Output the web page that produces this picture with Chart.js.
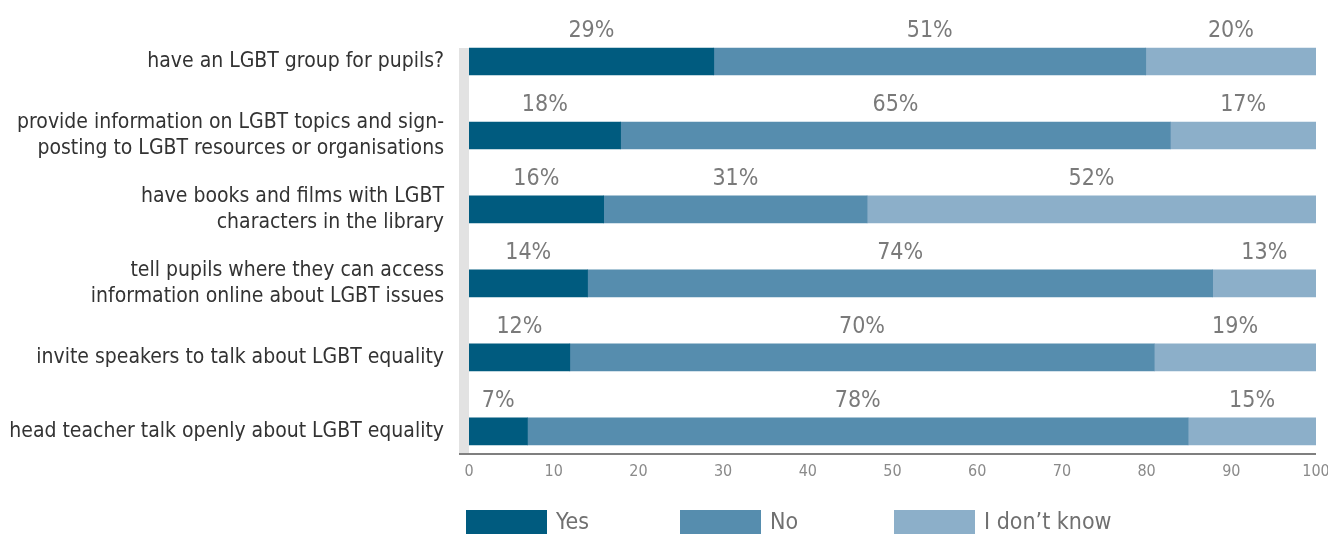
<!DOCTYPE html>
<html>
<head>
<meta charset="utf-8">
<script src="https://cdn.jsdelivr.net/npm/chart.js@4/dist/chart.umd.min.js"></script>
<style>
  html, body { margin: 0; padding: 0; background: #fff; }
  #wrap { width: 1328px; height: 534px; }
</style>
</head>
<body>
<div id="wrap"><canvas id="c" width="1328" height="534"></canvas></div>
<script>
// ---- data ----
const categories = [
  ["have an LGBT group for pupils?"],
  ["provide information on LGBT topics and sign-", "posting to LGBT resources or organisations"],
  ["have books and films with LGBT", "characters in the library"],
  ["tell pupils where they can access", "information online about LGBT issues"],
  ["invite speakers to talk about LGBT equality"],
  ["head teacher talk openly about LGBT equality"]
];
const seriesNames = ["Yes", "No", "I don\u2019t know"];
// bar lengths (percent of respondents, as drawn)
const yesVals = [28.9, 17.9, 15.9, 14.0, 11.9, 6.9];
const noVals  = [51.0, 64.9, 31.1, 73.8, 69.0, 78.0];
const dkVals  = [20.1, 17.2, 53.0, 12.2, 19.1, 15.1];
// printed labels
const yesLabels = ["29%", "18%", "16%", "14%", "12%", "7%"];
const noLabels  = ["51%", "65%", "31%", "74%", "70%", "78%"];
const dkLabels  = ["20%", "17%", "52%", "13%", "19%", "15%"];
const xTicks = [0, 10, 20, 30, 40, 50, 60, 70, 80, 90, 100];

const colors = ["#005b7f", "#568dae", "#8cafc9"];
const FONT = '"Liberation Sans Narrow", "DejaVu Sans Condensed", "Roboto", sans-serif';

const valueSets = [yesVals, noVals, dkVals];
const labelSets = [yesLabels, noLabels, dkLabels];

const datasets = valueSets.map((vals, d) => ({
  label: seriesNames[d],
  data: vals.map((v, i) => ({ x: v, y: i })),
  backgroundColor: colors[d],
  borderWidth: 0,
  barThickness: 27
}));

const bandPlugin = {
  id: 'band',
  beforeDatasetsDraw(chart) {
    const ca = chart.chartArea;
    const el = chart.getDatasetMeta(0).data[0];
    const top = el.y - el.height / 2;
    const ctx = chart.ctx;
    ctx.save();
    ctx.fillStyle = '#e2e2e2';
    ctx.fillRect(ca.left - 10, top, 10, ca.bottom - top);
    ctx.restore();
  },
  afterDatasetsDraw(chart) {
    const ca = chart.chartArea;
    const ctx = chart.ctx;
    ctx.save();
    ctx.strokeStyle = '#7f7f7f';
    ctx.lineWidth = 2;
    ctx.beginPath();
    ctx.moveTo(ca.left - 10, ca.bottom);
    ctx.lineTo(ca.right, ca.bottom);
    ctx.stroke();
    // value labels above each segment
    ctx.font = '23px ' + FONT;
    ctx.fillStyle = '#7a7a7a';
    ctx.textAlign = 'center';
    ctx.textBaseline = 'alphabetic';
    chart.data.datasets.forEach((ds, d) => {
      chart.getDatasetMeta(d).data.forEach((el, i) => {
        const cx = (el.base + el.x) / 2;
        const y = el.y - el.height / 2 - 11;
        ctx.fillText(labelSets[d][i], cx, y);
      });
    });
    ctx.restore();
  },
  afterDraw(chart) {
    const ca = chart.chartArea;
    const ctx = chart.ctx;
    ctx.save();
    const boxW = 81, boxH = 25, step = 214;
    const top = ca.bottom + 56;
    ctx.font = '23px ' + FONT;
    ctx.textBaseline = 'middle';
    ctx.textAlign = 'left';
    chart.data.datasets.forEach((ds, d) => {
      const x = ca.left - 3 + d * step;
      ctx.fillStyle = ds.backgroundColor;
      ctx.fillRect(x, top, boxW, boxH);
      ctx.fillStyle = '#707070';
      ctx.fillText(ds.label, x + boxW + 9, top + boxH / 2 + 1);
    });
    ctx.restore();
  }
};

new Chart(document.getElementById('c'), {
  type: 'bar',
  data: { datasets },
  plugins: [bandPlugin],
  options: {
    indexAxis: 'y',
    responsive: false,
    animation: false,
    layout: { padding: { left: 0, right: 12, top: 0, bottom: 50 } },
    plugins: {
      legend: { display: false },
      tooltip: { enabled: false }
    },
    scales: {
      x: {
        type: 'linear',
        stacked: true,
        min: 0,
        max: 100,
        offset: false,
        afterBuildTicks(scale) { scale.ticks = xTicks.map(v => ({ value: v })); },
        afterFit(scale) { scale.height = 30; scale.paddingLeft = 0; scale.paddingRight = 0; },
        grid: { display: false, drawTicks: false },
        border: { display: false },
        ticks: {
          color: '#8a8a8a',
          font: { family: FONT, size: 16 },
          padding: 8,
          maxRotation: 0
        }
      },
      y: {
        type: 'linear',
        stacked: true,
        reverse: true,
        offset: false,
        min: -0.832,
        max: 5.307,
        afterBuildTicks(scale) { scale.ticks = categories.map((c, i) => ({ value: i })); },
        afterFit(scale) { scale.width = 469; scale.paddingTop = 0; scale.paddingBottom = 0; },
        grid: { display: false, drawTicks: false, offset: false },
        border: { display: false },
        ticks: {
          autoSkip: false,
          color: '#333333',
          font: { family: FONT, size: 21, lineHeight: 26 / 21 },
          padding: 25,
          callback: (v) => categories[v]
        }
      }
    }
  }
});
</script>
</body>
</html>
